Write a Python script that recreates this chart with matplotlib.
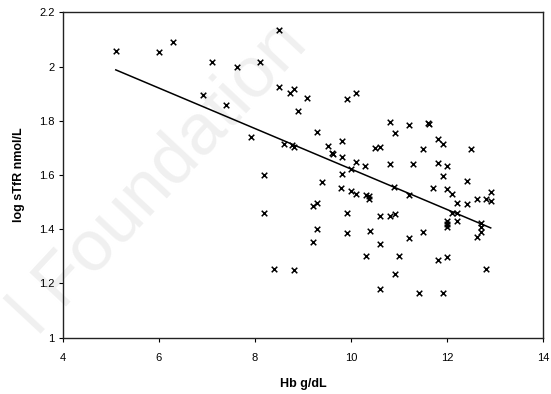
import matplotlib
matplotlib.use("Agg")
import matplotlib.pyplot as plt
import numpy as np

plt.rcParams['font.family'] = ['Liberation Sans', 'DejaVu Sans']

# Hb (g/dL) vs log sTfR (nmol/L)
hb = [5.10, 6.01, 6.30, 7.10, 7.62, 8.10, 8.49, 6.91, 7.39, 8.49,
      8.72, 8.81, 9.09, 8.90, 7.91, 8.61, 8.78, 8.81, 8.19, 9.91,
      10.10, 9.30, 9.52, 9.81, 9.61, 9.63, 9.81, 10.10, 10.30, 9.99,
      9.82, 10.51, 10.60, 10.81, 10.91, 11.20, 11.60, 11.62, 10.81, 11.30,
      11.51, 11.81, 11.91, 12.51, 11.81, 12.01, 11.91, 9.40, 12.42, 9.80,
      10.01, 10.10, 10.31, 10.38, 10.38, 10.90, 11.21, 11.71, 12.00, 12.10,
      12.20, 12.42, 12.62, 12.81, 12.91, 12.91, 9.20, 9.30, 9.91, 10.61,
      10.81, 10.91, 12.10, 12.20, 12.00, 12.00, 12.00, 12.20, 12.71, 12.71,
      12.71, 12.62, 9.30, 9.20, 9.91, 10.40, 10.61, 11.21, 11.51, 10.31,
      11.01, 11.81, 12.00, 10.91, 12.81, 10.61, 11.42, 11.91, 8.19, 8.40,
      8.82]
log_stfr = [2.057, 2.052, 2.092, 2.018, 1.997, 2.018, 2.135, 1.896, 1.858, 1.923,
            1.901, 1.918, 1.884, 1.837, 1.741, 1.713, 1.712, 1.705, 1.601, 1.879,
            1.901, 1.760, 1.708, 1.724, 1.680, 1.676, 1.665, 1.647, 1.633, 1.622,
            1.603, 1.701, 1.704, 1.794, 1.755, 1.786, 1.793, 1.789, 1.641, 1.641,
            1.696, 1.732, 1.713, 1.695, 1.643, 1.633, 1.598, 1.573, 1.578, 1.553,
            1.541, 1.531, 1.526, 1.524, 1.510, 1.557, 1.527, 1.553, 1.548, 1.530,
            1.496, 1.492, 1.510, 1.510, 1.505, 1.539, 1.486, 1.496, 1.461, 1.449,
            1.449, 1.455, 1.461, 1.461, 1.432, 1.418, 1.410, 1.432, 1.422, 1.407,
            1.391, 1.373, 1.401, 1.354, 1.385, 1.394, 1.346, 1.367, 1.389, 1.303,
            1.303, 1.286, 1.298, 1.234, 1.255, 1.179, 1.165, 1.165, 1.461, 1.255,
            1.251]

x_ticks = [4, 6, 8, 10, 12, 14]
y_ticks = [1, 1.2, 1.4, 1.6, 1.8, 2, 2.2]

x = np.array(hb)
y = np.array(log_stfr)

fig = plt.figure(figsize=(5.51, 3.94), dpi=100)

# faint watermark behind the plot
fig.text(0.0, 0.12, "l Foundation", fontsize=52, color='#f0f0f0',
         rotation=47, ha='left', va='bottom', zorder=0)

ax = fig.add_axes([0.1143, 0.1429, 0.8712, 0.8259])
ax.set_zorder(2)
ax.patch.set_alpha(0)

ax.scatter(x, y, marker='x', s=16, color='black', linewidths=1.1, zorder=3)

# linear trend line
slope, intercept = np.polyfit(x, y, 1)
xl = np.array([x.min(), x.max()])
ax.plot(xl, slope * xl + intercept, color='black', lw=1.1, zorder=2)

ax.set_xlim(4, 14)
ax.set_ylim(1, 2.2)
ax.set_xticks(x_ticks)
ax.set_yticks(y_ticks)
ax.set_xticklabels([str(t) for t in x_ticks], fontsize=8)
ax.set_yticklabels([f"{t:g}" for t in y_ticks], fontsize=8)
ax.tick_params(direction='out', length=3, width=0.8, pad=8)
ax.tick_params(axis='y', pad=3)

for s in ax.spines.values():
    s.set_linewidth(1.0)
    s.set_color('#222222')

ax.set_xlabel("Hb g/dL", fontsize=9, fontweight='bold', labelpad=11)
ax.set_ylabel("log sTfR nmol/L", fontsize=9, fontweight='bold', labelpad=10)

fig.savefig("out.png", dpi=100)
